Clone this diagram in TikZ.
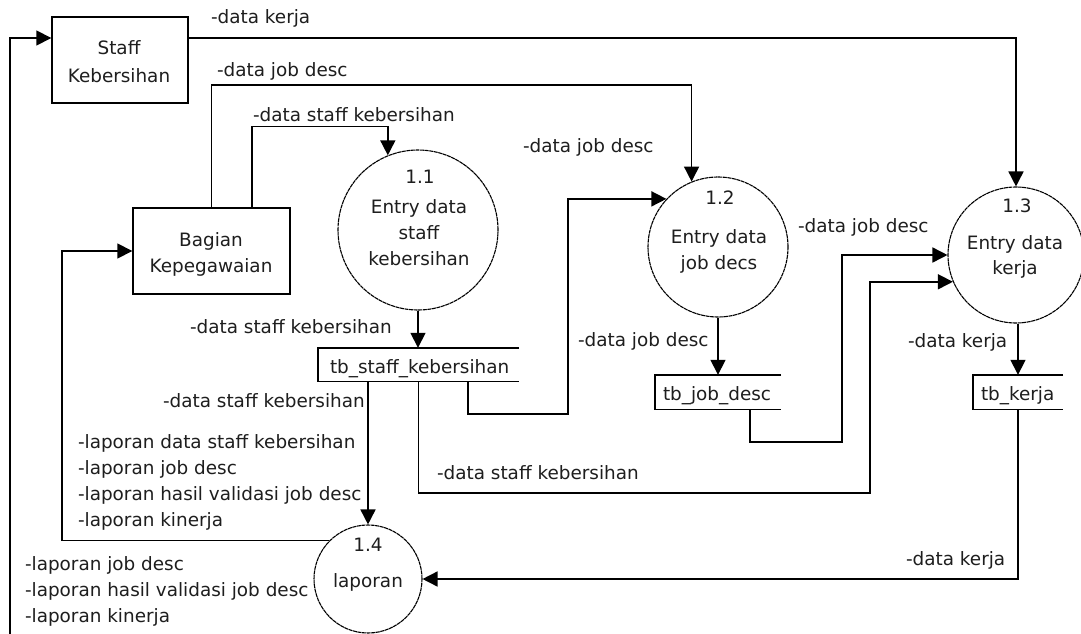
\documentclass[tikz,border=0pt]{standalone}
\usepackage{fontspec}
\setmainfont{DejaVu Sans}
\usetikzlibrary{arrows.meta}
\definecolor{ink}{HTML}{1E1E1E}
\begin{document}
\begin{tikzpicture}[x=1pt,y=-1pt,
  txt/.style={inner sep=0pt, outer sep=0pt, font=\fontsize{18.4}{22}\selectfont, text=ink, anchor=base},
  lbl/.style={txt, anchor=base west},
  entity/.style={draw=black, line width=1.4pt, rectangle, inner sep=0pt},
  proc/.style={draw=black, line width=1.1pt, dash pattern=on 4pt off 0.6pt, circle, inner sep=0pt},
  store/.style={rectangle, inner sep=0pt},
  storeline/.style={draw=black, line width=1.4pt},
  flow/.style={draw=black, line width=1.6pt, line join=miter, -{Triangle[length=15pt,width=15pt]}}]
\fill[white] (0,0) rectangle (1081,634);
\useasboundingbox (0,0) rectangle (1081,634);

% external entities
\node[entity, minimum width=136pt, minimum height=86pt] (staff) at (120,60) {};
\node[entity, minimum width=157pt, minimum height=86pt] (bagian) at (211.5,251) {};
\node[txt] (staffa) at (119,55) {Staff};
\node[txt] (staffb) at (119,82) {Kebersihan};
\node[txt] (bagiana) at (211,246) {Bagian};
\node[txt] (bagianb) at (211,272) {Kepegawaian};

% processes
\node[proc, minimum size=160pt] (p11) at (418,230) {};
\node[proc, minimum size=140pt] (p12) at (718,247) {};
\node[proc, minimum size=136pt] (p13) at (1016,255) {};
\node[proc, minimum size=108pt] (p14) at (368,579) {};
\node[txt] (p11n) at (420,183) {1.1};
\node[txt] (p11a) at (419,213) {Entry data};
\node[txt] (p11b) at (419,239) {staff};
\node[txt] (p11c) at (419,265) {kebersihan};
\node[txt] (p12n) at (720,204) {1.2};
\node[txt] (p12a) at (719,243) {Entry data};
\node[txt] (p12b) at (719,269) {job decs};
\node[txt] (p13n) at (1017,212) {1.3};
\node[txt] (p13a) at (1015,249) {Entry data};
\node[txt] (p13b) at (1015,274) {kerja};
\node[txt] (p14n) at (368,551) {1.4};
\node[txt] (p14a) at (368,587) {laporan};

% data stores
\node[store, minimum width=201pt, minimum height=33pt] (tbs) at (418.5,364.5) {};
\node[store, minimum width=126pt, minimum height=34pt] (tbj) at (718,392) {};
\node[store, minimum width=90pt, minimum height=34pt] (tbk) at (1018,392) {};
\draw[storeline] (tbs.north east) -- (tbs.north west) -- (tbs.south west) -- (tbs.south east);
\draw[storeline] (tbj.north east) -- (tbj.north west) -- (tbj.south west) -- (tbj.south east);
\draw[storeline] (tbk.north east) -- (tbk.north west) -- (tbk.south west) -- (tbk.south east);
\node[lbl] (tbst) at (330,373) {tb\_staff\_kebersihan};
\node[lbl] (tbjt) at (663,400) {tb\_job\_desc};
\node[lbl] (tbkt) at (981,400) {tb\_kerja};

% flows
\coordinate (loopend) at (10,634);
\draw[flow] (loopend) |- (staff.west |- 0,38);
\draw[flow] (staff.east |- 0,38) -| (p13.north);
\draw[flow] (bagian.north) -- (bagian.north |- 0,85) -| (p12.112);
\draw[flow] ([xshift=40.5pt]bagian.north) -- ++(0,-81) -| (p11.112);
\draw[flow] (p11.south) -- (p11.south |- tbs.north);
\draw[flow] (p12.south) -- (p12.south |- tbj.north);
\draw[flow] (p13.south -| tbk.north) -- (tbk.north);
\draw[flow] (tbs.south -| 468,0) |- (568,414) |- (p12.137);
\draw[flow] (tbj.south -| 750,0) |- (842,442) |- (p13.west);
\draw[flow] (tbs.south) |- (870,493) |- (p13.203);
\draw[flow] (tbs.south -| p14.north) -- (p14.north);
\draw[flow] (tbk.south) |- (p14.east);
\draw[flow] (p14.135) -| (62,0 |- bagian.west) -- (bagian.west);

% labels
\node[lbl] (l1) at (211,24) {-data kerja};
\node[lbl] (l2) at (217,76) {-data job desc};
\node[lbl] (l3) at (253,121) {-data staff kebersihan};
\node[lbl] (l4) at (523,152) {-data job desc};
\node[lbl] (l5) at (798,232) {-data job desc};
\node[lbl] (l6) at (190,333) {-data staff kebersihan};
\node[lbl] (l7) at (578,346) {-data job desc};
\node[lbl] (l8) at (908,347) {-data kerja};
\node[lbl] (l9) at (163,407) {-data staff kebersihan};
\node[lbl] (l10) at (78,448) {-laporan data staff kebersihan};
\node[lbl] (l11) at (78,474) {-laporan job desc};
\node[lbl] (l12) at (78,500) {-laporan hasil validasi job desc};
\node[lbl] (l13) at (78,526) {-laporan kinerja};
\node[lbl] (l14) at (437,479) {-data staff kebersihan};
\node[lbl] (l15) at (906,565) {-data kerja};
\node[lbl] (l16) at (25,570) {-laporan job desc};
\node[lbl] (l17) at (25,596) {-laporan hasil validasi job desc};
\node[lbl] (l18) at (25,622) {-laporan kinerja};
\end{tikzpicture}
\end{document}
